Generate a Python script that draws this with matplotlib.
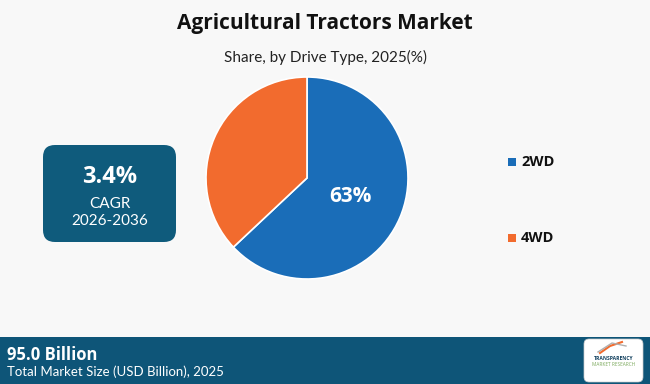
import matplotlib
matplotlib.use("Agg")
import matplotlib.pyplot as plt
from matplotlib.patches import FancyBboxPatch, Rectangle

categories = ["2WD", "4WD"]
shares = [63, 37]
colors = ["#1a6db8", "#f26b2e"]
title = "Agricultural Tractors Market"
subtitle = "Share, by Drive Type, 2025(%)"
cagr_value = "3.4%"
cagr_label = "CAGR"
cagr_period = "2026-2036"
market_value = "95.0 Billion"
market_label = "Total Market Size (USD Billion), 2025"

W, H = 650, 384
fig = plt.figure(figsize=(W / 100, H / 100), dpi=100)
fig.patch.set_facecolor("#f8f8f8")

def fx(x):
    return x / W

def fy(y):
    return 1 - y / H

# Title
fig.text(fx(325), fy(24), title, ha="center", va="center", fontsize=15,
         fontweight="bold", family="Open Sans", color="#111111")
fig.text(fx(325), fy(57), subtitle, ha="center", va="center", fontsize=11,
         family="Lato", color="#222222")

# Pie
cx, cy, r = 307, 178, 101
ax = fig.add_axes([fx(cx - r), fy(cy + r), (2 * r) / W, (2 * r) / H])
wedges, texts, autotexts = ax.pie(
    shares, colors=colors, startangle=90, counterclock=False,
    autopct=lambda p: f"{p:.0f}%" if p > 50 else "", pctdistance=0.47,
    wedgeprops=dict(edgecolor="white", linewidth=1.2),
    textprops=dict(color="white", fontsize=15, fontweight="bold", family="Open Sans"))
ax.set_aspect("equal")
ax.set_xlim(-1.0, 1.0)
ax.set_ylim(-1.0, 1.0)

# Overlay axes for shapes in pixel coords
ov = fig.add_axes([0, 0, 1, 1], zorder=-1)
ov.set_xlim(0, W)
ov.set_ylim(H, 0)
ov.axis("off")

# CAGR box
box = FancyBboxPatch((43, 145), 133, 97, boxstyle="round,pad=0,rounding_size=12",
                     facecolor="#0f5b7c", edgecolor="none")
ov.add_patch(box)
fig.text(fx(110), fy(177), cagr_value, ha="center", va="center", fontsize=17,
         fontweight="bold", family="Open Sans", color="white")
fig.text(fx(110), fy(204), cagr_label, ha="center", va="center", fontsize=11,
         family="Lato", color="white")
fig.text(fx(110), fy(221), cagr_period, ha="center", va="center", fontsize=11,
         family="Lato", color="white")

# Legend
for i, (cat, col) in enumerate(zip(categories, colors)):
    y = 162 + i * 76
    ov.add_patch(Rectangle((508, y - 4), 8, 8, facecolor=col, edgecolor="none"))
    fig.text(fx(521), fy(y), cat, ha="left", va="center", fontsize=10.5,
             fontweight="bold", family="Open Sans", color="#111111")

# Footer
ov.add_patch(Rectangle((0, 337), W, 47, facecolor="#0e5578", edgecolor="none"))
fig.text(fx(7), fy(355), market_value, ha="left", va="center", fontsize=12,
         fontweight="bold", family="Open Sans", color="white")
fig.text(fx(7), fy(372), market_label, ha="left", va="center", fontsize=9.5,
         family="Lato", color="white")

# Logo
ov.add_patch(FancyBboxPatch((584, 339), 59, 43, boxstyle="round,pad=0,rounding_size=5",
                            facecolor="white", edgecolor="#cccccc", linewidth=0.5))
fig.text(fx(613.5), fy(359), "TRANSPARENCY", ha="center", va="center", fontsize=3.6,
         fontweight="bold", family="Open Sans", color="#0e3d5c")
fig.text(fx(613.5), fy(365), "MARKET RESEARCH", ha="center", va="center", fontsize=3.4,
         family="Open Sans", color="#7aa85a")
ov.plot([600, 610, 622], [353, 346, 342], color="#f26b2e", lw=1.5)
ov.plot([598, 612, 626], [352, 343, 346], color="#b0b0b0", lw=1.0)

fig.savefig("out.png", dpi=100, facecolor=fig.get_facecolor())
